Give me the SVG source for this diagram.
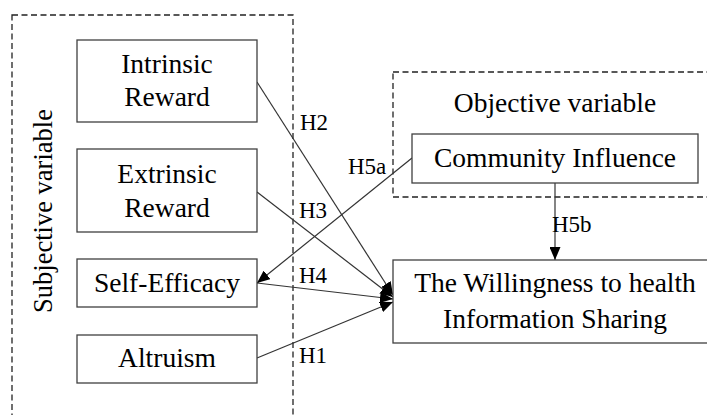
<svg xmlns="http://www.w3.org/2000/svg" width="707" height="415" viewBox="0 0 707 415">
  <style>
    text { font-family: 'Liberation Serif', Tinos, 'Times New Roman', 'DejaVu Serif', serif; fill: #000; }
    .t { font-size: 27.5px; text-anchor: middle; }
    .v { font-size: 26.5px; text-anchor: middle; }
    .h { font-size: 23px; }
    .box { fill: #fff; stroke: #404040; stroke-width: 1.3; }
    .group { fill: none; stroke: #222; stroke-width: 1.3; stroke-dasharray: 6 3.5; }
    .link { fill: none; stroke: #333; stroke-width: 1.2; marker-end: url(#arrow); }
  </style>
  <defs>
    <marker id="arrow" markerUnits="userSpaceOnUse" markerWidth="13" markerHeight="11" refX="13" refY="5.5" orient="auto">
      <path d="M0,0 L13,5.5 L0,11 z" fill="#000"/>
    </marker>
  </defs>
  <rect width="707" height="415" fill="#fff"/>

  <!-- variable groupings -->
  <g id="subjective-group">
    <rect class="group" x="12" y="15" width="281" height="420"/>
    <text class="v" transform="translate(52,211) rotate(-90)">Subjective variable</text>
  </g>
  <g id="objective-group">
    <rect class="group" x="393" y="72" width="330" height="125"/>
    <text class="t" x="555" y="112">Objective variable</text>
  </g>

  <!-- connectors -->
  <g id="connectors">
    <line class="link" x1="257" y1="82" x2="393" y2="295"/>
    <line class="link" x1="257" y1="192" x2="393" y2="297"/>
    <line class="link" x1="257" y1="283" x2="393" y2="299"/>
    <line class="link" x1="257" y1="358" x2="393" y2="302"/>
    <line class="link" x1="412" y1="158" x2="257" y2="283"/>
    <line class="link" x1="555" y1="183" x2="555" y2="260"/>
    <text class="h" x="300" y="130">H2</text>
    <text class="h" x="299" y="218">H3</text>
    <text class="h" x="299" y="283">H4</text>
    <text class="h" x="299" y="363">H1</text>
    <text class="h" x="348" y="174">H5a</text>
    <text class="h" x="552" y="232">H5b</text>
  </g>

  <g id="intrinsic-reward">
    <rect class="box" x="77" y="40" width="180" height="82"/>
    <text class="t" x="167" y="73">Intrinsic</text>
    <text class="t" x="167" y="106">Reward</text>
  </g>
  <g id="extrinsic-reward">
    <rect class="box" x="77" y="149" width="180" height="83"/>
    <text class="t" x="167" y="183">Extrinsic</text>
    <text class="t" x="167" y="217">Reward</text>
  </g>
  <g id="self-efficacy">
    <rect class="box" x="77" y="259" width="180" height="48"/>
    <text class="t" x="167" y="292">Self-Efficacy</text>
  </g>
  <g id="altruism">
    <rect class="box" x="77" y="335" width="180" height="48"/>
    <text class="t" x="167" y="367">Altruism</text>
  </g>
  <g id="community-influence">
    <rect class="box" x="412" y="134" width="286" height="49"/>
    <text class="t" x="555" y="167">Community Influence</text>
  </g>
  <g id="sharing-willingness">
    <rect class="box" x="393" y="260" width="330" height="83"/>
    <text class="t" x="555" y="292">The Willingness to health</text>
    <text class="t" x="555" y="328">Information Sharing</text>
  </g>
</svg>
